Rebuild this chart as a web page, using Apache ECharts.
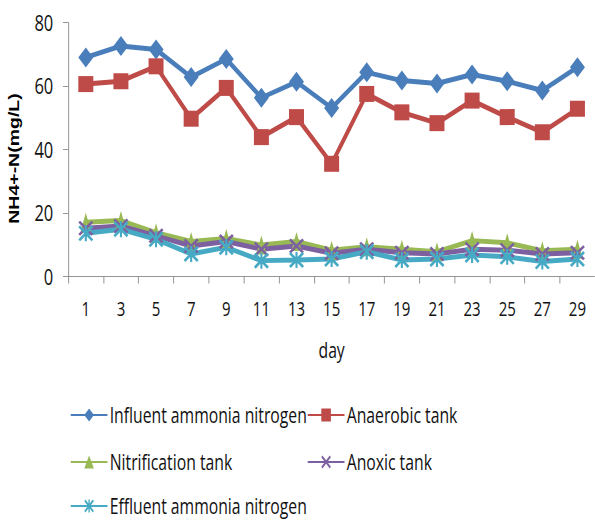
<!DOCTYPE html>
<html>
<head>
<meta charset="utf-8">
<script src="https://cdn.jsdelivr.net/npm/echarts@6/dist/echarts.min.js"></script>
<style>
  html, body { margin: 0; padding: 0; background: #fff; overflow: hidden; width: 595px; height: 520px; }
  /* The chart is laid out wide and narrowed horizontally, giving condensed lettering and narrow markers */
  #chart { width: 793.33px; height: 520px; transform: scaleX(0.75); transform-origin: 0 0; }
</style>
</head>
<body>
<div id="chart"></div>
<script>
// Sampling days (x-axis categories)
const days = ['1', '3', '5', '7', '9', '11', '13', '15', '17', '19', '21', '23', '25', '27', '29'];

// NH4+-N concentration (mg/L) at each stage
const influent      = [69, 72.6, 71.5, 62.8, 68.5, 56.3, 61.3, 53.1, 64.3, 61.7, 60.8, 63.6, 61.5, 58.6, 65.9];
const anaerobic     = [60.6, 61.5, 66.2, 49.7, 59.4, 43.9, 50.2, 35.5, 57.5, 51.7, 48.3, 55.4, 50.2, 45.4, 52.8];
const nitrification = [17.1, 17.6, 13.8, 11.0, 12.0, 9.9, 11.0, 8.3, 9.4, 8.6, 7.8, 11.3, 10.6, 8.1, 8.6];
const anoxic        = [15.2, 15.9, 12.8, 9.6, 11.0, 8.6, 9.6, 7.3, 8.6, 7.5, 7.1, 8.6, 8.3, 7.1, 7.5];
const effluent      = [13.6, 14.9, 11.7, 7.1, 9.2, 5.0, 5.2, 5.5, 7.8, 5.2, 5.5, 6.8, 6.2, 4.7, 5.5];

const yTicks = { min: 0, max: 80, interval: 20 };

const seriesNames = ['Influent ammonia nitrogen', 'Anaerobic tank', 'Nitrification tank', 'Anoxic tank', 'Effluent ammonia nitrogen'];

// Marker shapes built from thin filled bars
const xMark = 'path://M0,1.2 L1.2,0 L10,8.8 L8.8,10 Z M8.8,0 L10,1.2 L1.2,10 L0,8.8 Z';
const starMark = 'path://M0,1.2 L1.2,0 L10,8.8 L8.8,10 Z M8.8,0 L10,1.2 L1.2,10 L0,8.8 Z M4.3,0 L5.7,0 L5.7,10 L4.3,10 Z';

const txtFont = "'Open Sans', sans-serif";

function makeSeries(name, data, color, symbol, size) {
  return {
    name: name,
    type: 'line',
    data: data,
    symbol: symbol,
    symbolSize: size,
    showAllSymbol: true,
    lineStyle: { color: color, width: 5 },
    itemStyle: { color: color, borderWidth: 0 },
    emphasis: { disabled: true },
    z: 2
  };
}

function legendAt(name, left, top) {
  return {
    data: [name],
    left: left,
    top: top,
    itemWidth: 49,
    itemHeight: 16,
    itemGap: 0,
    padding: 0,
    textStyle: { fontFamily: txtFont, fontSize: 21, lineHeight: 22, color: '#111', padding: [0, 0, 0, -2] }
  };
}

const chart = echarts.init(document.getElementById('chart'), null, { renderer: 'svg', width: 793.33, height: 520 });
chart.setOption({
  animation: false,
  backgroundColor: '#fff',
  color: ['#4A7EBB', '#BE4B48', '#98B954', '#7D60A0', '#46AAC5'],
  grid: { left: 89.3, top: 22.5, width: 712, height: 254, containLabel: false },
  legend: [
    legendAt(seriesNames[0], 93.3, 404),
    legendAt(seriesNames[1], 409.3, 404),
    legendAt(seriesNames[2], 93.3, 451),
    legendAt(seriesNames[3], 409.3, 451),
    legendAt(seriesNames[4], 93.3, 495)
  ],
  xAxis: {
    type: 'category',
    data: days,
    boundaryGap: true,
    name: 'day',
    nameLocation: 'middle',
    nameGap: 63,
    nameTextStyle: { fontFamily: txtFont, fontSize: 21, color: '#111' },
    axisLine: { lineStyle: { color: '#868686', width: 1 } },
    axisTick: { show: true, alignWithLabel: false, length: 7, lineStyle: { color: '#868686' } },
    axisLabel: { fontFamily: txtFont, fontSize: 20, color: '#111', margin: 22 }
  },
  yAxis: {
    type: 'value',
    min: yTicks.min,
    max: yTicks.max,
    interval: yTicks.interval,
    name: 'NH4+-N(mg/L)',
    nameLocation: 'middle',
    nameRotate: 90,
    nameGap: 63,
    nameTextStyle: {
      fontFamily: "'Liberation Sans', Arial, sans-serif", fontSize: 19.5, fontWeight: 'bold', color: '#000',
      padding: [0, 18, 0, 0]
    },
    axisLine: { show: true, lineStyle: { color: '#868686', width: 1 } },
    axisTick: { show: true, length: 7, lineStyle: { color: '#868686' } },
    splitLine: { show: false },
    axisLabel: { fontFamily: txtFont, fontSize: 22, color: '#111', margin: 20 }
  },
  series: [
    makeSeries(seriesNames[0], influent, '#4A7EBB', 'diamond', [20, 20]),
    makeSeries(seriesNames[1], anaerobic, '#BE4B48', 'rect', [20, 16]),
    makeSeries(seriesNames[2], nitrification, '#98B954', 'triangle', [14, 19]),
    makeSeries(seriesNames[3], anoxic, '#7D60A0', xMark, [20, 15]),
    makeSeries(seriesNames[4], effluent, '#46AAC5', starMark, [20, 16])
  ]
});
</script>
</body>
</html>
